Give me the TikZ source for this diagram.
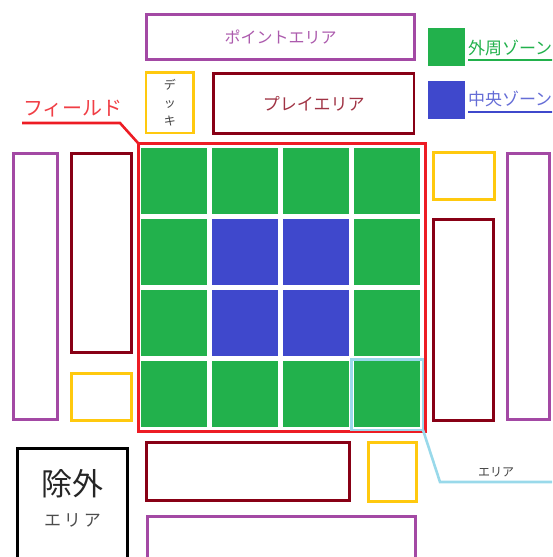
\documentclass[tikz,border=0pt]{standalone}
\usepackage{fontspec}
\setmainfont{Noto Sans CJK JP}
\definecolor{pgreen}{HTML}{22B14C}
\definecolor{pblue}{HTML}{3F48CC}
\definecolor{ppurple}{HTML}{A349A4}
\definecolor{pdark}{HTML}{880015}
\definecolor{pyellow}{HTML}{FFC90E}
\definecolor{pred}{HTML}{ED1C24}
\definecolor{plight}{HTML}{99D9EA}
\newcommand{\fs}[1]{\fontsize{#1}{#1}\selectfont}
\tikzset{
  area/.style={draw=#1, line width=2.6pt, rectangle, inner sep=0pt, outer sep=0pt},
  cell/.style={fill=#1, rectangle, inner sep=0pt, outer sep=0pt, minimum width=66pt, minimum height=66pt},
  lbl/.style={inner sep=0pt, outer sep=0pt},
}
\begin{document}
\begin{tikzpicture}[x=1pt,y=-1pt]
\useasboundingbox (0,0) rectangle (552,557);
\clip (0,0) rectangle (552,557);
% top
\node[area=ppurple, minimum width=268pt, minimum height=45pt, text=ppurple!90] (point) at (280.5,37) {\fs{16}ポイントエリア};
\node[area=pyellow, minimum width=47.5pt, minimum height=60.5pt, text=black!75, align=center,
  font=\fontsize{12}{18}\selectfont] (deck) at (169.75,102.75) {デ\\ッ\\キ};
\node[area=pdark, minimum width=200.5pt, minimum height=60pt, text=pdark!80] (play) at (313.75,103.5) {\fs{17}プレイエリア};
% field
\node[area=pred, line width=3pt, minimum width=287pt, minimum height=288.5pt] (field) at (281.5,287.25) {};
\foreach \i in {0,1,2,3}{
  \foreach \j in {0,1,2,3}{
    \pgfmathsetmacro{\cx}{174+71*\i}
    \pgfmathsetmacro{\cy}{181+71*\j}
    \ifnum\i>0 \ifnum\i<3 \ifnum\j>0 \ifnum\j<3
      \def\cc{pblue}
    \else \def\cc{pgreen}\fi \else \def\cc{pgreen}\fi \else \def\cc{pgreen}\fi \else \def\cc{pgreen}\fi
    \node[cell=\cc] (c\i\j) at (\cx,\cy) {};
  }
}
% left column
\node[area=ppurple, minimum width=44pt, minimum height=266pt] (purL) at (35.5,286.5) {};
\node[area=pdark, minimum width=60pt, minimum height=199pt] (drL) at (101.5,253) {};
\node[area=pyellow, minimum width=60pt, minimum height=47pt] (yeL) at (101.5,397) {};
% right column
\node[area=pyellow, minimum width=61pt, minimum height=47pt] (yeR) at (464,176) {};
\node[area=pdark, minimum width=60pt, minimum height=201pt] (drR) at (463.5,320) {};
\node[area=ppurple, minimum width=42pt, minimum height=266pt] (purR) at (528.5,286.5) {};
% bottom
\node[area=pdark, minimum width=203pt, minimum height=58pt] (drB) at (248,471.5) {};
\node[area=pyellow, minimum width=48pt, minimum height=59pt] (yeB) at (392.5,472) {};
\node[area=ppurple, minimum width=268pt, minimum height=63.5pt] (purB) at (281.5,548.25) {};
\node[area=black, minimum width=110pt, minimum height=131.5pt] (excl) at (72.5,514.25) {};
\node[lbl, text=black!85] (exclA) at (72.5,484) {\fs{31}除外};
\node[lbl, text=black!70] (exclB) at (72.5,520) {\fs{17}エ\,リ\,ア};
% highlight of one cell
\node[area=plight, minimum width=71.5pt, minimum height=70.5pt] (hl) at (387.25,394.75) {};
\coordinate (hlb) at (440,482);
\coordinate (hle) at (560,482);
\draw[plight, line width=2.6pt, line join=miter] (hl.south east) -- (hlb) -- (hle);
\node[lbl, text=black!75] (hllbl) at (496,472) {\fs{12}エリア};
% field callout
\coordinate (fa) at (22,123);
\coordinate (fb) at (120,123);
\draw[pred, line width=2.6pt] (fa) -- (fb) -- (field.north west);
\node[lbl, text=pred!85] (fieldlbl) at (73,109) {\fs{20}フィールド};
% legend
\node[cell=pgreen, minimum width=37pt, minimum height=38pt] (lg) at (446.5,47) {};
\node[cell=pblue, minimum width=37pt, minimum height=38pt] (lb) at (446.5,100) {};
\node[lbl, anchor=west, text=pgreen] (lgt) at (468,48) {\fs{17}外周ゾーン};
\node[lbl, anchor=west, text=pblue!80] (lbt) at (468,99) {\fs{17}中央ゾーン};
\coordinate (ug1) at (468,60); \coordinate (ug2) at (560,60);
\coordinate (ub1) at (468,112); \coordinate (ub2) at (560,112);
\draw[pgreen, line width=2pt] (ug1) -- (ug2);
\draw[pblue, line width=2pt] (ub1) -- (ub2);
\end{tikzpicture}
\end{document}
